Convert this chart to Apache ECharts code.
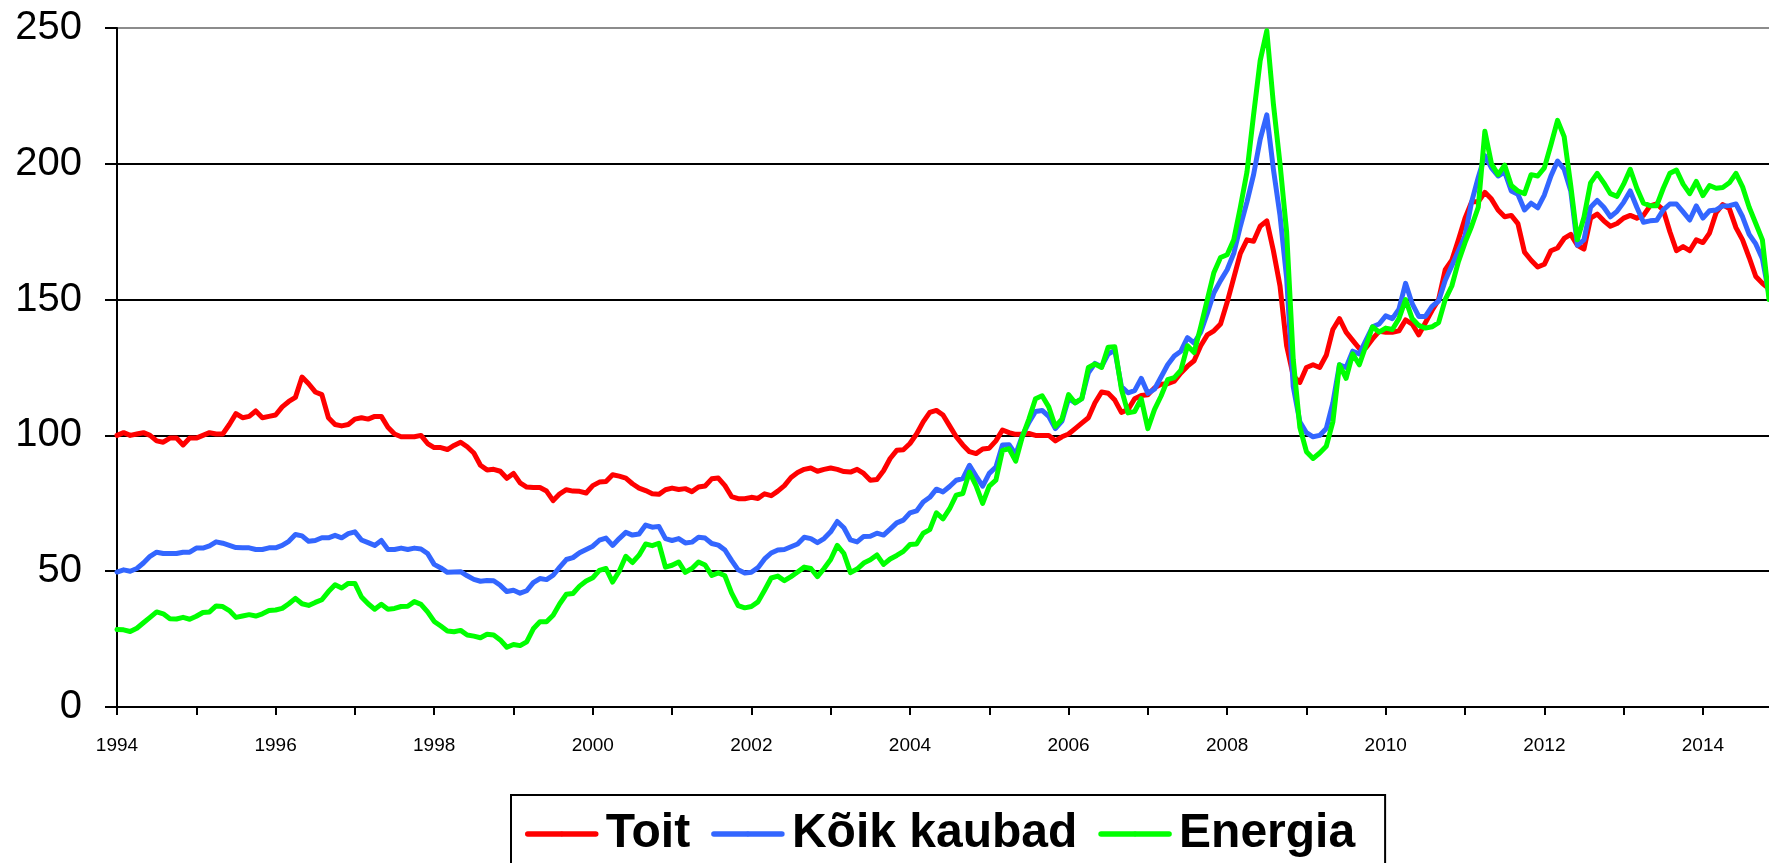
<!DOCTYPE html>
<html>
<head>
<meta charset="utf-8">
<script src="https://cdn.jsdelivr.net/npm/echarts@6/dist/echarts.min.js"></script>
<style>
	html, body {margin: 0; padding: 0; background: #fff;}
	#line {width: 1769px; height: 863px;}
</style>
</head>
<body>
<div id="line"></div>
<script>
	// monthly index values, Jan 1994 .. Nov 2014
	const toit = [
		100, 101, 100, 100.5, 101, 100, 98, 97.5, 99, 99,
		96.5, 99, 99, 100, 101, 100.5, 100.5, 104, 108, 106.5,
		107, 109, 106.5, 107, 107.5, 110.5, 112.5, 114, 121.5, 119,
		116, 115, 106.5, 104, 103.5, 104, 106, 106.5, 106, 107,
		107, 103, 100.5, 99.5, 99.5, 99.5, 100, 97, 95.5, 95.5,
		94.8, 96.3, 97.5, 95.8, 93.5, 89, 87.3, 87.5, 86.8, 84.2,
		86, 82.5, 81, 80.8, 80.8, 79.5, 76, 78.5, 80, 79.5,
		79.4, 78.8, 81.5, 82.8, 83, 85.5, 85, 84.3, 82.2, 80.6,
		79.7, 78.5, 78.3, 80, 80.6, 80.1, 80.4, 79.3, 81, 81.4,
		84, 84.3, 81.5, 77.5, 76.7, 76.7, 77.2, 76.8, 78.5, 77.8,
		79.5, 81.5, 84.5, 86.3, 87.5, 88, 86.8, 87.5, 88, 87.5,
		86.7, 86.5, 87.5, 86, 83.5, 83.8, 87, 91.5, 94.5, 94.7,
		97, 100.5, 105, 108.5, 109.2, 107.5, 103.5, 99.5, 96.5, 94,
		93.3, 95, 95.3, 98, 102, 101, 100.4, 100.4, 100.7, 100,
		100, 100, 98, 99.5, 100.5, 102.5, 104.5, 106.5, 112, 116,
		115.5, 113, 108.5, 109.5, 113.5, 114.7, 115, 117.5, 118.8, 119,
		120, 123, 125.5, 127.5, 133, 137, 138.5, 141, 149, 158,
		167, 172, 171.5, 177, 179, 168, 155, 133, 122, 119.5,
		125, 126, 125, 129.5, 139, 143, 138, 135, 132, 132.3,
		135.5, 138.3, 138, 138, 138.5, 142.5, 141, 137, 141.5, 146,
		150, 161, 164.5, 172, 180, 186, 186, 189.5, 187, 183,
		180.5, 181, 178, 167.5, 164.5, 162, 163, 168, 169, 172.5,
		174, 170, 168.6, 180, 181.5, 179, 177, 178, 180, 181,
		180, 181, 184.5, 185.2, 183, 175, 168, 169.5, 168, 172,
		171, 174.5, 182, 185, 183.5, 176.5, 172, 165.5, 158.5, 156, 154
	];
	const koikKaubad = [
		49.7, 50.5, 50, 51, 53, 55.5, 57, 56.5, 56.5, 56.5,
		57, 57, 58.5, 58.5, 59.3, 60.8, 60.3, 59.5, 58.7, 58.6,
		58.6, 58, 58, 58.6, 58.6, 59.5, 61, 63.5, 63, 61,
		61.3, 62.3, 62.3, 63.2, 62.3, 63.8, 64.5, 61.5, 60.5, 59.5,
		61.3, 58, 58, 58.5, 58, 58.5, 58.2, 56.5, 52.5, 51.2,
		49.6, 49.7, 49.8, 48.3, 47, 46.3, 46.6, 46.5, 44.8, 42.5,
		43, 41.9, 42.8, 45.8, 47.3, 46.9, 48.5, 51.5, 54.3, 55,
		56.8, 58, 59.2, 61.4, 62.2, 59.5, 62, 64.3, 63.3, 63.7,
		67, 66.2, 66.5, 62, 61.3, 62, 60.4, 60.7, 62.5, 62.2,
		60.2, 59.6, 57.8, 54, 50.5, 49.3, 49.6, 51.3, 54.5, 56.7,
		57.8, 58, 59, 60, 62.5, 62, 60.5, 62, 64.5, 68.3,
		66, 61.5, 60.8, 62.8, 62.9, 64, 63.3, 65.5, 67.8, 68.8,
		71.5, 72.2, 75.5, 77.2, 80.2, 79.2, 81.2, 83.5, 84.1, 89,
		85, 81.3, 86, 88.3, 96.5, 96.6, 93, 99.8, 104.8, 108.8,
		109.2, 107, 102.5, 105.3, 113.5, 112, 113.5, 123, 126.5, 125.3,
		130, 131.3, 118, 115.7, 116.5, 121, 115.5, 117, 121.5, 126,
		129.2, 131, 136, 134, 138, 145, 152.5, 157, 161, 167,
		177, 186, 196, 209, 218, 198, 181, 158, 118, 105,
		101, 99.5, 100, 102.5, 112, 126, 125, 131, 130, 135,
		140, 141, 144, 143, 146.5, 156, 148.5, 143.8, 143.8, 147.5,
		149.5, 157, 162.5, 168, 173.5, 186, 195, 203, 198.5, 195.5,
		197, 190, 188.8, 183, 185.5, 183.8, 188.5, 195.5, 201, 198,
		190, 170, 172, 184, 186.5, 184, 180.5, 182.5, 185.8, 190,
		184, 178.5, 179, 179.2, 183, 185.2, 185.2, 182.3, 179.3, 184.5,
		180, 182.7, 183, 184.5, 184.6, 185.2, 180.5, 174, 170.5, 165, 152
	];
	const energia = [
		28.5, 28.4, 27.8, 29, 31, 33, 35, 34.3, 32.5, 32.4,
		33, 32.3, 33.4, 34.8, 35, 37.2, 37, 35.5, 33, 33.5,
		34, 33.5, 34.3, 35.5, 35.7, 36.3, 38, 40, 38, 37.4,
		38.5, 39.5, 42.5, 45, 43.8, 45.5, 45.5, 40.5, 38, 36,
		37.8, 36, 36.3, 37, 37.1, 38.8, 37.8, 35, 31.5, 29.8,
		28, 27.7, 28.2, 26.5, 26.1, 25.5, 26.8, 26.5, 24.7, 22,
		23, 22.6, 24, 28.8, 31.4, 31.4, 33.8, 38, 41.5, 41.8,
		44.5, 46.4, 47.6, 50.3, 51, 46, 50, 55.5, 53.2, 55.9,
		60, 59.4, 60.3, 51.5, 52.2, 53.4, 49.6, 51, 53.4, 52.3,
		48.4, 49.4, 48.3, 42, 37.3, 36.5, 37, 38.7, 43, 47.5,
		48.2, 46.5, 48, 49.7, 51.5, 51, 48, 51, 54.3, 59.5,
		56.5, 49.5, 50.8, 53, 54.2, 56, 52.5, 54.5, 55.8, 57.3,
		59.8, 60, 64, 65.3, 71.5, 69.3, 73, 78, 78.6, 86.5,
		81.5, 75, 81.3, 83.5, 94.5, 95.1, 90.5, 99.5, 106, 113.5,
		114.6, 110.5, 103.3, 106, 115, 112, 113.5, 125, 126.3, 125,
		132.5, 132.6, 117, 108.3, 108.8, 113.5, 102.5, 109.5, 114.5, 120.5,
		121.3, 124, 133, 130.5, 140, 150, 160, 165.5, 166.5, 172,
		184, 197, 218, 238, 249, 222, 200, 175, 128, 103,
		94, 91.5, 93.5, 96, 105, 126, 121, 130, 126, 133,
		140, 138, 139.5, 139, 143, 150, 143, 140.5, 139.5, 140,
		141.5, 150, 155, 164, 171, 177, 184, 212, 200, 196,
		199.5, 192, 190, 189, 196, 195.5, 198.5, 207, 216, 210,
		192, 172, 180.3, 193, 196.5, 193, 189, 188, 192.5, 198,
		191, 185.5, 184.6, 184.6, 191, 196.5, 197.7, 192.5, 189, 193.5,
		188.3, 192, 191, 191.3, 193, 196.5, 191.5, 184, 178, 172, 150
	];
	const yearLabels = ['1994', '1996', '1998', '2000', '2002', '2004', '2006', '2008', '2010', '2012', '2014'];
	const yTicks = [0, 50, 100, 150, 200, 250];

	// one category per month
	let months = [];
	for (let i = 0; i < toit.length; i++) {
		let y = 1994 + Math.floor(i / 12);
		let m = i % 12 + 1;
		months.push(y + '-' + (m < 10 ? '0' + m : m));
	}

	let chart = echarts.init(document.getElementById('line'));

	const lineSeries = (name, data, color) => ({
		name: name,
		type: 'line',
		data: data,
		symbol: 'none',
		showSymbol: false,
		color: color,
		lineStyle: {width: 5, color: color, join: 'round', cap: 'round'},
		emphasis: {disabled: true}
	});

	let option = {
		animation: false,
		backgroundColor: '#fff',
		grid: {left: 117, right: 0, top: 28, bottom: 156, containLabel: false},
		legend: {
			left: 511,
			top: 795,
			orient: 'horizontal',
			padding: [15, 30, 30, 14],
			itemGap: 21,
			itemWidth: 68,
			itemHeight: 6,
			borderColor: '#000',
			borderWidth: 2,
			borderRadius: 0,
			lineStyle: {width: 5.5, cap: 'round'},
			textStyle: {
				fontFamily: 'Liberation Sans, Arial, sans-serif',
				fontSize: 48,
				fontWeight: 'bold',
				color: '#000',
				padding: [0, 0, 0, 5]
			},
			data: ['Toit', 'Kõik kaubad', 'Energia']
		},
		xAxis: {
			type: 'category',
			data: months,
			boundaryGap: false,
			axisLine: {show: true, lineStyle: {color: '#000', width: 2}},
			axisTick: {
				show: true,
				inside: false,
				length: 8,
				interval: (idx) => idx % 12 === 0,
				lineStyle: {color: '#000', width: 2}
			},
			axisLabel: {
				show: true,
				interval: (idx) => idx % 24 === 0,
				formatter: (val) => {
					let y = val.slice(0, 4);
					return yearLabels.indexOf(y) >= 0 ? y : '';
				},
				margin: 29,
				color: '#000',
				fontFamily: 'Liberation Sans Narrow, Arial Narrow, Liberation Sans, sans-serif',
				fontSize: 19
			},
			splitLine: {show: false}
		},
		yAxis: {
			type: 'value',
			min: yTicks[0],
			max: yTicks[yTicks.length - 1],
			interval: 50,
			axisLine: {show: true, lineStyle: {color: '#000', width: 2}},
			axisTick: {show: true, inside: false, length: 12, lineStyle: {color: '#000', width: 2}},
			axisLabel: {
				margin: 35,
				color: '#000',
				fontFamily: 'Liberation Sans, Arial, sans-serif',
				fontSize: 40
			},
			splitLine: {
				show: true,
				lineStyle: {color: ['#000', '#000', '#000', '#000', '#000', '#8c8c8c'], width: 2}
			}
		},
		series: [
			lineSeries('Toit', toit, '#ff0000'),
			lineSeries('Kõik kaubad', koikKaubad, '#3366ff'),
			lineSeries('Energia', energia, '#00ff00')
		]
	};
	chart.setOption(option);
</script>
</body>
</html>
